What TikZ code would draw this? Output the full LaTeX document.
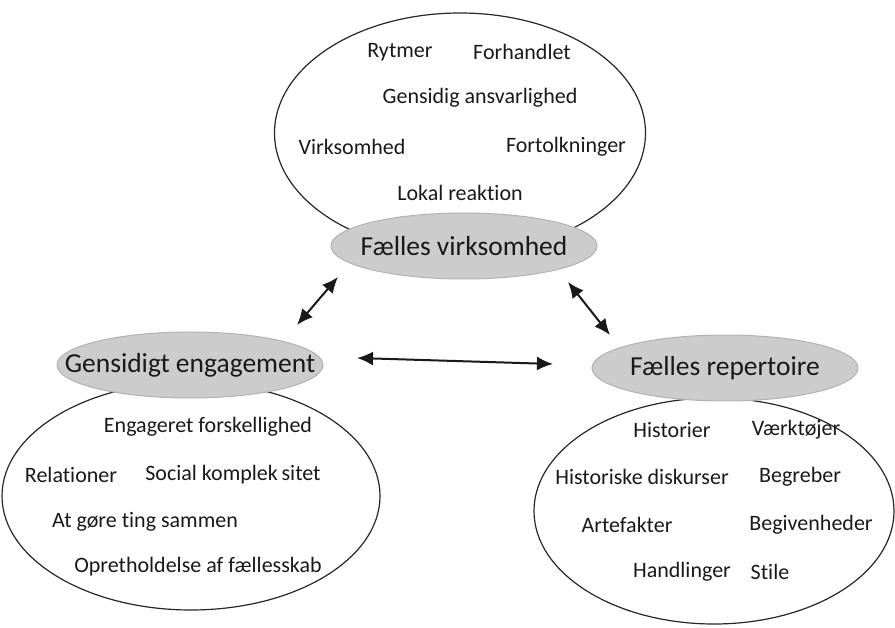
\documentclass[tikz,border=0pt]{standalone}
\usepackage{fontspec}
\setmainfont{Carlito}[Ligatures=NoCommon]
\usetikzlibrary{shapes.geometric,arrows.meta}
\begin{document}
\begin{tikzpicture}[x=1pt,y=-1pt,>={Latex[length=16pt,width=14pt]},
		felt/.style={ellipse,draw=black!85,line width=1.2pt,inner sep=0pt},
		kerne/.style={ellipse,draw=black!30,fill=black!20,line width=1pt,inner sep=0pt,
			minimum width=266pt,minimum height=66pt},
		navn/.style={text=black!90,font=\fontsize{27.5}{32}\selectfont,inner sep=0pt},
		emne/.style={text=black!90,font=\fontsize{22}{26}\selectfont,inner sep=0pt},
		pil/.style={<->,line width=2pt,black!90}]
		\useasboundingbox (0,0) rectangle (895,628);
		% outer fields
		\node[felt,minimum width=371pt,minimum height=240pt] (virkfelt) at (460,133) {};
		\node[felt,minimum width=378pt,minimum height=228pt] (engfelt) at (191,496) {};
		\node[felt,minimum width=360pt,minimum height=226pt] (repfelt) at (714,511) {};
		% grey kernels
		\node[kerne] (virk) at (464,246) {};
		\node[kerne] (eng) at (190,365) {};
		\node[kerne] (rep) at (725,368) {};
		\node[navn] at (virk) {Fælles virksomhed};
		\node[navn] at (eng) {Gensidigt engagement};
		\node[navn] at (rep) {Fælles repertoire};
		% Fælles virksomhed
		\node[emne] (rytmer) at (400,52) {Rytmer};
		\node[emne] (forhandlet) at (522,52) {Forhandlet};
		\node[emne] (ansvar) at (480,98) {Gensidig ansvarlighed};
		\node[emne] (virksomhed) at (352,147) {Virksomhed};
		\node[emne] (fortolk) at (566,147) {Fortolkninger};
		\node[emne] (lokal) at (460,193) {Lokal reaktion};
		% Gensidigt engagement
		\node[emne] (forskel) at (208,427) {Engageret forskellighed};
		\node[emne] (relationer) at (71,475) {Relationer};
		\node[emne] (social) at (233,475) {Social komplek\,sitet};
		\node[emne] (sammen) at (145,522) {At gøre ting sammen};
		\node[emne] (oprethold) at (198,567) {Opretholdelse af fællesskab};
		% Fælles repertoire
		\node[emne] (historier) at (672,430) {Historier};
		\node[emne] (vaerktoej) at (796,430) {Værktøjer};
		\node[emne] (diskurser) at (642,477) {Historiske diskurser};
		\node[emne] (begreber) at (800,477) {Begreber};
		\node[emne] (artefakter) at (627,525) {Artefakter};
		\node[emne] (begiven) at (811,525) {Begivenheder};
		\node[emne] (handlinger) at (682,572) {Handlinger};
		\node[emne] (stile) at (770,572) {Stile};
		% arrows
		\coordinate (a1) at (297,325);
		\coordinate (b1) at (338,277);
		\coordinate (a2) at (568,282);
		\coordinate (b2) at (610,335);
		\coordinate (a3) at (357,358);
		\coordinate (b3) at (553,364);
		\draw[pil] (a1) -- (b1);
		\draw[pil] (a2) -- (b2);
		\draw[pil] (a3) -- (b3);
\end{tikzpicture}
\end{document}
